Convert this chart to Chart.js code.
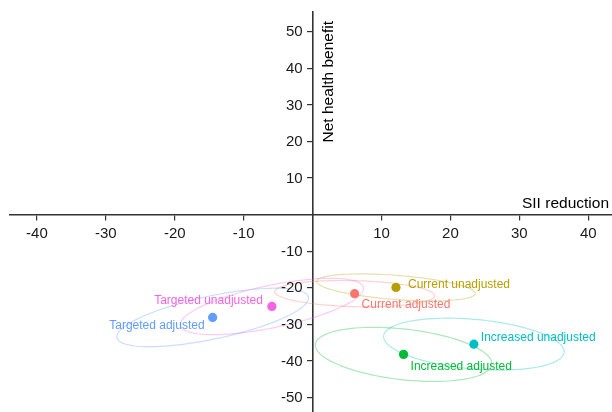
<!DOCTYPE html>
<html>
<head>
<meta charset="utf-8">
<script src="https://cdn.jsdelivr.net/npm/chart.js@4"></script>
<style>
  html, body { margin: 0; padding: 0; background: #fff; overflow: hidden; width: 612px; height: 412px; }
  #wrap { width: 617px; height: 430px; position: relative; margin-top: -2px; }
</style>
</head>
<body>
<div id="wrap"><canvas id="c"></canvas></div>
<script>
// ---- data ----
const categories = ['Current unadjusted', 'Current adjusted', 'Increased unadjusted', 'Increased adjusted', 'Targeted unadjusted', 'Targeted adjusted'];
const siiReduction = [12.1, 6.1, 23.4, 13.2, -5.9, -14.5];
const netHealthBenefit = [-19.9, -21.6, -35.4, -38.2, -25.1, -28.1];
// confidence ellipse parameters (data units): half x-range, half y-range, correlation
const ellipseRx = [11.5, 11.6, 13.1, 12.8, 13.3, 13.9];
const ellipseRy = [3.7, 3.6, 7.1, 7.4, 7.7, 8.0];
const ellipseCorr = [-0.44, -0.15, -0.29, -0.34, 0.64, 0.66];
const xTicks = [-40, -30, -20, -10, 10, 20, 30, 40];
const yTicks = [-50, -40, -30, -20, -10, 10, 20, 30, 40, 50];

// ---- style ----
const colors = ['#B79F00', '#F8766D', '#00BFC4', '#00BA38', '#F564E3', '#619CFF'];
const labelOffsets = [[12, -3, 'left'], [7, 11, 'left'], [7, -6, 'left'], [7, 12, 'left'], [-9, -6, 'right'], [-8, 8, 'right']];
const FONT = '"Liberation Sans", Arial, Helvetica, sans-serif';

function rgba(hex, a) {
  const n = parseInt(hex.slice(1), 16);
  return `rgba(${(n >> 16) & 255},${(n >> 8) & 255},${n & 255},${a})`;
}

const ellipsePlugin = {
  id: 'ellipses',
  beforeDatasetsDraw(chart) {
    const { ctx, scales: { x, y } } = chart;
    ctx.save();
    ctx.lineWidth = 1.2;
    for (let i = 0; i < categories.length; i++) {
      const cx = siiReduction[i], cy = netHealthBenefit[i];
      const rx = ellipseRx[i], ry = ellipseRy[i], r = ellipseCorr[i];
      const s = Math.sqrt(1 - r * r);
      ctx.beginPath();
      const N = 120;
      for (let k = 0; k <= N; k++) {
        const t = 2 * Math.PI * k / N;
        const px = x.getPixelForValue(cx + rx * Math.cos(t));
        const py = y.getPixelForValue(cy + ry * (r * Math.cos(t) + s * Math.sin(t)));
        if (k === 0) ctx.moveTo(px, py); else ctx.lineTo(px, py);
      }
      ctx.closePath();
      ctx.strokeStyle = rgba(colors[i], 0.33);
      ctx.stroke();
    }
    ctx.restore();
  }
};

const labelPlugin = {
  id: 'labels',
  afterDatasetsDraw(chart) {
    const { ctx } = chart;
    const meta = chart.getDatasetMeta(0);
    ctx.save();
    ctx.font = '12px ' + FONT;
    ctx.textBaseline = 'middle';
    meta.data.forEach((pt, i) => {
      const [dx, dy, al] = labelOffsets[i];
      ctx.textAlign = al;
      ctx.fillStyle = colors[i];
      ctx.fillText(categories[i], pt.x + dx, pt.y + dy);
    });
    ctx.restore();
  }
};

// y tick labels placed left of the centred axis (library places them on the axis line)
const yLabelPlugin = {
  id: 'yTickLabels',
  afterDraw(chart) {
    const { ctx, scales: { x, y } } = chart;
    const axisX = x.getPixelForValue(0);
    ctx.save();
    ctx.font = '15px ' + FONT;
    ctx.fillStyle = '#1a1a1a';
    ctx.textAlign = 'right';
    ctx.textBaseline = 'middle';
    y.ticks.forEach(t => {
      ctx.fillText(String(t.value), axisX - 10, y.getPixelForValue(t.value) + 0.5);
    });
    ctx.restore();
  }
};

const titlePlugin = {
  id: 'axisTitles',
  afterDraw(chart) {
    const { ctx } = chart;
    ctx.save();
    ctx.fillStyle = '#000';
    ctx.font = '15.5px ' + FONT;
    ctx.textAlign = 'right';
    ctx.textBaseline = 'alphabetic';
    ctx.fillText('SII reduction', 609, 210);
    ctx.translate(333, 23);
    ctx.rotate(-Math.PI / 2);
    ctx.fillText('Net health benefit', 0, 0);
    ctx.restore();
  }
};

const axisCommon = {
  type: 'linear',
  grid: { drawOnChartArea: false, drawTicks: true, tickLength: 5, color: '#333', lineWidth: 1.2 },
  border: { display: true, color: '#333', width: 1.6 },
  ticks: { font: { size: 15, family: FONT }, color: '#1a1a1a', padding: 5, autoSkip: false, maxRotation: 0 }
};

new Chart(document.getElementById('c'), {
  type: 'scatter',
  data: {
    datasets: [{
      data: siiReduction.map((v, i) => ({ x: v, y: netHealthBenefit[i] })),
      backgroundColor: colors,
      borderWidth: 0,
      pointRadius: 4.6,
      pointHoverRadius: 4.6
    }]
  },
  options: {
    responsive: true,
    maintainAspectRatio: false,
    animation: false,
    events: [],
    layout: { padding: { left: 10, top: 12, right: 0, bottom: 0 } },
    plugins: { legend: { display: false }, tooltip: { enabled: false } },
    scales: {
      x: Object.assign({}, axisCommon, {
        min: -43.9, max: 43.5, position: { y: 0 },
        afterBuildTicks: (ax) => { ax.ticks = xTicks.map(v => ({ value: v })); }
      }),
      y: Object.assign({}, axisCommon, {
        min: -54.5, max: 55.4, position: { x: 0 },
        ticks: Object.assign({}, axisCommon.ticks, { color: 'rgba(0,0,0,0)' }),
        afterBuildTicks: (ax) => { ax.ticks = yTicks.map(v => ({ value: v })); }
      })
    }
  },
  plugins: [ellipsePlugin, labelPlugin, yLabelPlugin, titlePlugin]
});
</script>
</body>
</html>
